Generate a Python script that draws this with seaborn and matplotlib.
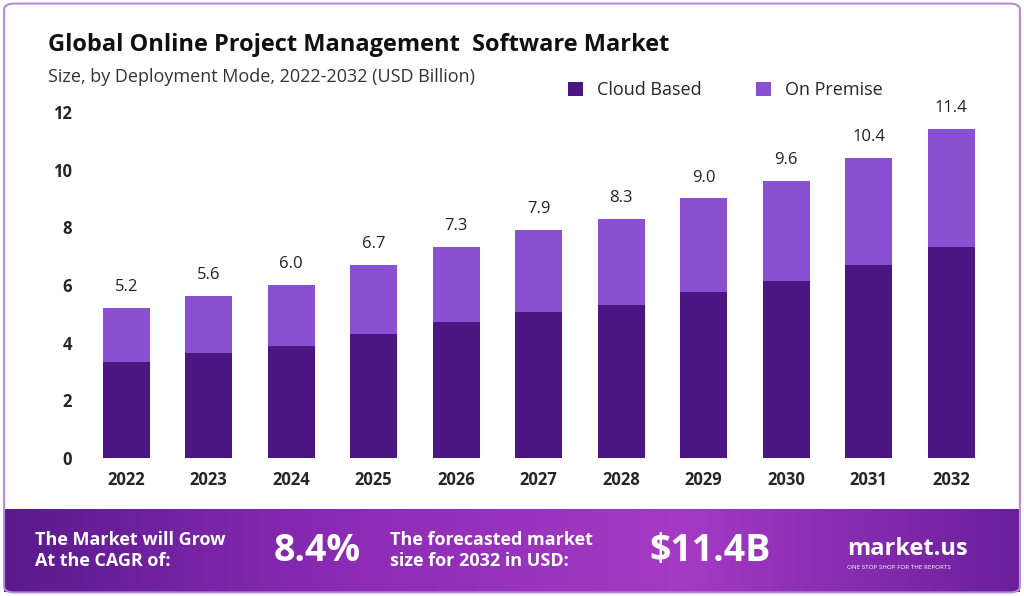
import numpy as np
import pandas as pd
import matplotlib
matplotlib.use("Agg")
import matplotlib.pyplot as plt
import seaborn as sns
from matplotlib.patches import FancyBboxPatch
from matplotlib.colors import LinearSegmentedColormap

years = ["2022","2023","2024","2025","2026","2027","2028","2029","2030","2031","2032"]
totals = [5.2,5.6,6.0,6.7,7.3,7.9,8.3,9.0,9.6,10.4,11.4]
cloud = [3.33,3.65,3.89,4.3,4.72,5.07,5.31,5.76,6.15,6.7,7.33]
yticks = [0,2,4,6,8,10,12]

sns.set_theme(style="white")
plt.rcParams['font.family'] = ['Open Sans', 'DejaVu Sans']
fig = plt.figure(figsize=(10.24,5.96), dpi=100)
fig.patch.set_facecolor("white")

fig.patches.append(FancyBboxPatch((0.004,0.006),0.992,0.988, boxstyle="round,pad=0,rounding_size=0.01",
    transform=fig.transFigure, fill=False, edgecolor="#b58ad6", lw=1.5))

ax = fig.add_axes([0.083, 0.232, 0.886, 0.58])
df = pd.DataFrame({"year":years,"total":totals,"cloud":cloud})
sns.barplot(data=df, x="year", y="total", color="#8b4fd2", saturation=1, width=0.57, ax=ax, label="On Premise", linewidth=0)
sns.barplot(data=df, x="year", y="cloud", color="#4b1681", saturation=1, width=0.57, ax=ax, label="Cloud Based", linewidth=0)
for i,t in enumerate(totals):
    ax.text(i, t+0.45, f"{t:.1f}", ha="center", va="bottom", fontsize=12, color="#222")
ax.set_ylim(0,12)
ax.set_yticks(yticks)
ax.set_yticklabels([str(v) for v in yticks], fontsize=12, fontweight="bold")
ax.tick_params(axis="x", labelsize=12)
for l in ax.get_xticklabels(): l.set_fontweight("bold")
ax.set_xlabel(""); ax.set_ylabel("")
sns.despine(ax=ax, left=True, bottom=True)
h,l = ax.get_legend_handles_labels()
ax.legend([h[1],h[0]],[l[1],l[0]], loc="lower left", bbox_to_anchor=(0.515,0.99), ncol=2, frameon=False,
          fontsize=13, handlelength=0.8, handleheight=0.8, columnspacing=3)

fig.text(0.047,0.915,"Global Online Project Management  Software Market", fontsize=17, fontweight="bold", color="#111")
fig.text(0.047,0.862,"Size, by Deployment Mode, 2022-2032 (USD Billion)", fontsize=13, color="#333")

bax = fig.add_axes([0.004,0.006,0.992,0.14])
grad = np.linspace(0,1,256).reshape(1,-1)
cm = LinearSegmentedColormap.from_list("g",["#5a1a8e","#8c2bb5","#a53ac4","#6a1f9c"])
bax.imshow(grad, aspect="auto", cmap=cm, extent=[0,1,0,1])
bax.set_axis_off()
bax.text(0.03,0.5,"The Market will Grow\nAt the CAGR of:", color="white", fontsize=13, fontweight="bold", va="center")
bax.text(0.265,0.5,"8.4%", color="white", fontsize=27, fontweight="bold", va="center")
bax.text(0.38,0.5,"The forecasted market\nsize for 2032 in USD:", color="white", fontsize=13, fontweight="bold", va="center")
bax.text(0.635,0.5,"$11.4B", color="white", fontsize=27, fontweight="bold", va="center")
bax.text(0.83,0.52,"market.us", color="white", fontsize=17, fontweight="bold", va="center")
bax.text(0.83,0.3,"ONE STOP SHOP FOR THE REPORTS", color="white", fontsize=4.5, va="center")
bax.set_xlim(0,1); bax.set_ylim(0,1)

fig.savefig("out.png", dpi=100)
